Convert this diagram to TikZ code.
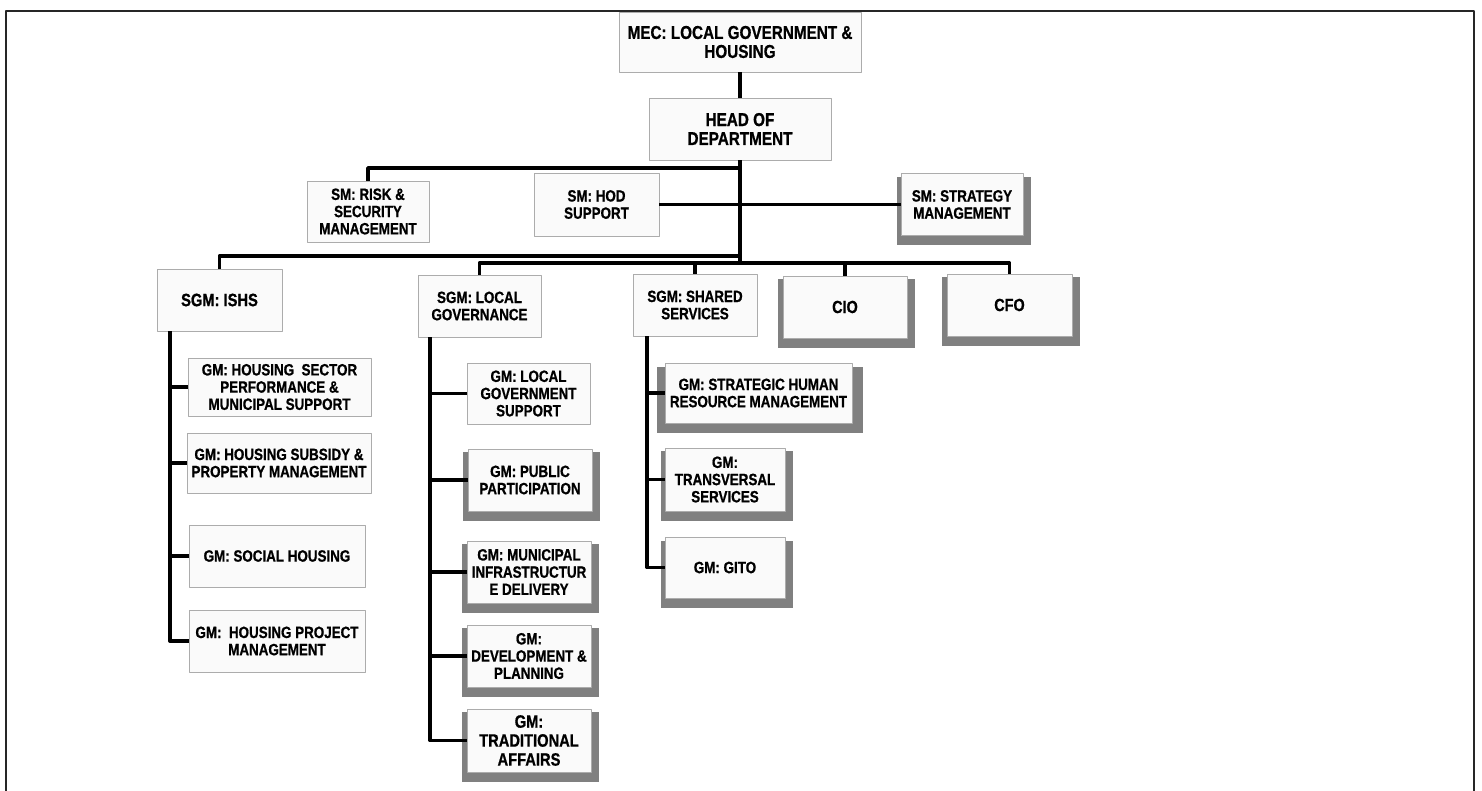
\documentclass[tikz,border=0pt]{standalone}
\usepackage{fontspec}
\setmainfont{Liberation Sans}[FakeStretch=0.82, BoldFeatures={FakeBold=0.8}]
\usetikzlibrary{shadows}
\begin{document}
\begin{tikzpicture}[x=0.02cm, y=-0.02cm, line join=round,
  unit/.style={draw=gray!65, line width=0.5pt, fill=gray!4, align=center, inner sep=0pt,
    font=\bfseries\fontsize{9.3}{9.8}\selectfont},
  big/.style={font=\bfseries\fontsize{10.6}{10.8}\selectfont},
  sz/.style 2 args={minimum width=#1*0.02cm, minimum height=#2*0.02cm},
  shd/.style={drop shadow={shadow xshift=0.03cm, shadow yshift=-0.12cm, shadow scale=1.1, fill=black!50, opacity=1}},
  link/.style={line width=2.2pt}]
\useasboundingbox (0,0) rectangle (1482,791);
\draw[line width=1.2pt, black!85] (6,791) -- (6,11) -- (1474,11) -- (1474,791);
% top
\node[unit,big,sz={242}{60}] (mec) at (740,42) {MEC: LOCAL GOVERNMENT \&\\HOUSING};
\node[unit,big,sz={182}{62}] (hod) at (740,129) {HEAD OF\\DEPARTMENT};
% senior managers
\node[unit,sz={122}{61}] (risk) at (368,211.5) {SM: RISK \&\\SECURITY\\MANAGEMENT};
\node[unit,sz={125}{63}] (hods) at (596.5,204.5) {SM: HOD\\SUPPORT};
\node[unit,shd,sz={122}{62}] (strat) at (962,204.5) {SM: STRATEGY\\MANAGEMENT};
% senior general managers
\node[unit,font=\bfseries\fontsize{10.2}{10.6}\selectfont,sz={125}{62}] (ishs) at (219.5,300) {SGM: ISHS};
\node[unit,sz={123}{62}] (lgov) at (479.5,306) {SGM: LOCAL\\GOVERNANCE};
\node[unit,sz={124}{62}] (shared) at (695,305) {SGM: SHARED\\SERVICES};
\node[unit,shd,font=\bfseries\fontsize{10}{10.6}\selectfont,sz={124}{62}] (cio) at (845,307) {CIO};
\node[unit,shd,font=\bfseries\fontsize{10}{10.6}\selectfont,sz={125}{62}] (cfo) at (1009.5,305) {CFO};
% ISHS
\node[unit,sz={183}{58}] (hsp) at (279.5,387) {GM: HOUSING~ SECTOR\\PERFORMANCE \&\\MUNICIPAL SUPPORT};
\node[unit,sz={184}{60}] (hsub) at (279,463) {GM: HOUSING SUBSIDY \&\\PROPERTY MANAGEMENT};
\node[unit,sz={176}{62}] (social) at (277,556) {GM: SOCIAL HOUSING};
\node[unit,sz={176}{62}] (hproj) at (277,641) {GM:~ HOUSING PROJECT\\MANAGEMENT};
% local governance
\node[unit,sz={123}{61}] (lgs) at (528.5,393.5) {GM: LOCAL\\GOVERNMENT\\SUPPORT};
\node[unit,shd,sz={124}{62}] (pp) at (530,480) {GM: PUBLIC\\PARTICIPATION};
\node[unit,shd,sz={124}{62}] (infra) at (529,572) {GM: MUNICIPAL\\INFRASTRUCTUR\\E DELIVERY};
\node[unit,shd,sz={124}{62}] (dev) at (529,656) {GM:\\DEVELOPMENT \&\\PLANNING};
\node[unit,shd,font=\bfseries\fontsize{10.2}{10.8}\selectfont,sz={124}{63}] (trad) at (529,740.5) {GM:\\TRADITIONAL\\AFFAIRS};
% shared services
\node[unit,shd,sz={187}{60}] (hr) at (758.5,393) {GM: STRATEGIC HUMAN\\RESOURCE MANAGEMENT};
\node[unit,shd,sz={120}{63}] (trans) at (725,479.5) {GM:\\TRANSVERSAL\\SERVICES};
\node[unit,shd,sz={120}{61}] (gito) at (725,567.5) {GM: GITO};
% connectors
\coordinate (rj) at (740,168);
\coordinate (ja) at (740,256);
\coordinate (jb) at (740,263);
\draw[link] (mec) -- (hod);
\draw[link] (hod.south) -- (jb);
\draw[link] (rj) -| (risk.north);
\draw[link] (hods) -- (strat);
\draw[link] (ja) -| (ishs.north);
\draw[link] (lgov.north) |- (jb) -| (cfo.north);
\draw[link] (shared.north) -- (shared.north |- jb) (cio.north) -- (cio.north |- jb);
\coordinate (ishsT) at (170,331);
\coordinate (lgovT) at (430,337);
\coordinate (sharedT) at (647,336);
\foreach \n in {hsp,hsub,social,hproj} \draw[link] (ishsT) |- (\n.west);
\foreach \n in {lgs,pp,infra,dev,trad} \draw[link] (lgovT) |- (\n.west);
\foreach \n in {hr,trans,gito} \draw[link] (sharedT) |- (\n.west);
\end{tikzpicture}
\end{document}
